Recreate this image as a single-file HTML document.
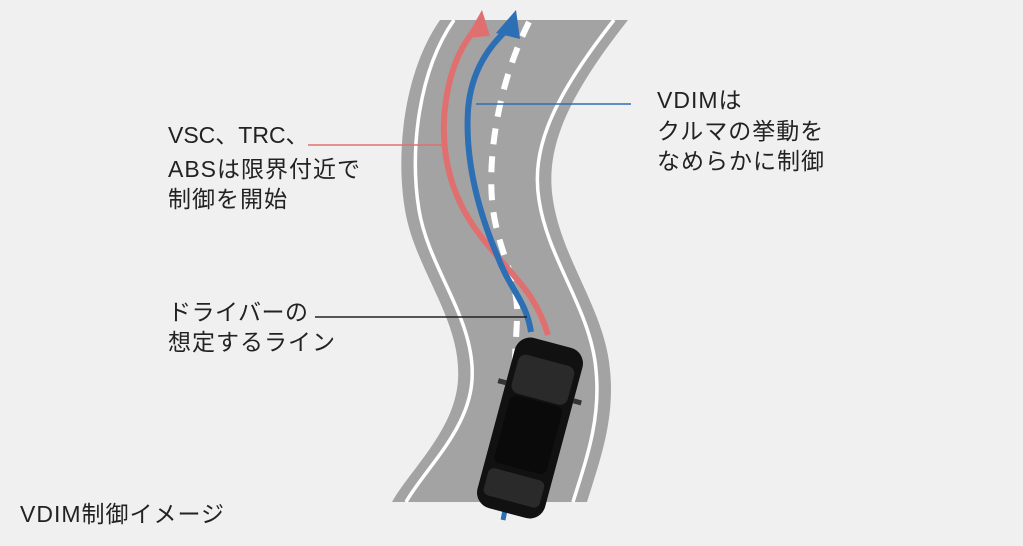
<!DOCTYPE html>
<html><head><meta charset="utf-8"><style>
html,body{margin:0;padding:0;background:#f0f0f0}
svg{display:block}
text{font-family:"Liberation Sans","Noto Sans CJK JP",sans-serif;font-size:23px;fill:#222;letter-spacing:1px}
</style></head><body>
<svg width="1023" height="546" viewBox="0 0 1023 546" xmlns="http://www.w3.org/2000/svg">
<rect width="1023" height="546" fill="#f0f0f0"/>
<path d="M440,20 C405,70 395,150 405,210 C415,270 462,320 458,380 C455,430 410,470 392,502 L587,502 C600,460 615,420 610,370 C605,310 562,260 553,200 C545,150 565,100 628,20 Z" fill="#a3a3a3"/>
<path d="M440,20 C405,70 395,150 405,210 C415,270 462,320 458,380 C455,430 410,470 392,502" transform="translate(14,0)" fill="none" stroke="#fff" stroke-width="3.5"/>
<path d="M587,502 C600,460 615,420 610,370 C605,310 562,260 553,200 C545,150 565,100 628,20" transform="translate(-14,0)" fill="none" stroke="#fff" stroke-width="3.5"/>
<path d="M529,22 C500,80 488,150 492,200 C496,250 520,280 517,320 C514,380 510,440 503,520" fill="none" stroke="#fff" stroke-width="6" stroke-dasharray="16,12"/>
<path d="M548,335 C535,290 510,275 480,235 C445,190 440,140 446,100 C452,60 466,40 476,28" fill="none" stroke="#e07070" stroke-width="6"/>
<polygon points="482,10 466,38 490,36" fill="#e07070"/>
<path d="M531,332 C526,300 510,290 497,255 C478,210 465,160 468,110 C471,70 490,45 509,28" fill="none" stroke="#2d6fb5" stroke-width="6"/>
<polygon points="516,10 496,33 520,39" fill="#2d6fb5"/>
<path d="M506,505 L503,520" stroke="#2d6fb5" stroke-width="5"/>
<line x1="308" y1="145" x2="442" y2="145" stroke="#e07070" stroke-width="1.5"/>
<line x1="476" y1="104" x2="631" y2="104" stroke="#2d6fb5" stroke-width="1.5"/>
<line x1="315" y1="317" x2="527" y2="317" stroke="#222" stroke-width="1.5"/>
<g transform="translate(530,428) rotate(15)">
<rect x="-35" y="-88" width="70" height="176" rx="16" fill="#111"/>
<rect x="-29" y="-70" width="58" height="40" rx="8" fill="#2a2a2a"/>
<rect x="-27" y="-28" width="54" height="70" rx="6" fill="#0a0a0a"/>
<rect x="-29" y="48" width="58" height="28" rx="6" fill="#2a2a2a"/>
<rect x="-43" y="-40" width="8" height="5" fill="#333"/>
<rect x="35" y="-40" width="8" height="5" fill="#333"/>
</g>
<text x="168" y="143" style="letter-spacing:0">VSC、TRC、</text>
<text x="168" y="177">ABSは限界付近で</text>
<text x="168" y="207">制御を開始</text>
<text x="657" y="108">VDIMは</text>
<text x="657" y="139">クルマの挙動を</text>
<text x="657" y="169">なめらかに制御</text>
<text x="168" y="320" style="letter-spacing:0.5px">ドライバーの</text>
<text x="168" y="350">想定するライン</text>
<text x="20" y="522">VDIM制御イメージ</text>
</svg>
</body></html>
